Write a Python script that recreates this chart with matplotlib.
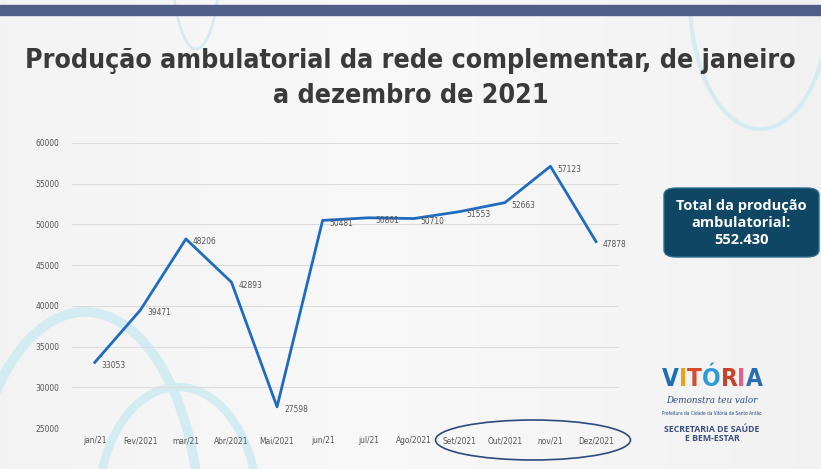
import numpy as np
import matplotlib.pyplot as plt
from matplotlib.patches import Ellipse, FancyBboxPatch, Arc, Rectangle

plt.rcParams["font.family"] = ["DejaVu Sans"]
plt.rcParams["font.stretch"] = "condensed"

months = ["jan/21", "Fev/2021", "mar/21", "Abr/2021", "Mai/2021", "jun/21",
          "jul/21", "Ago/2021", "Set/2021", "Out/2021", "nov/21", "Dez/2021"]
producao = [33053, 39471, 48206, 42893, 27598, 50481,
            50801, 50710, 51553, 52663, 57123, 47878]
yticks = [25000, 30000, 35000, 40000, 45000, 50000, 55000, 60000]
total_text = "Total da produção\nambulatorial:\n552.430"
title = "Produção ambulatorial da rede complementar, de janeiro\na dezembro de 2021"


def main():
    fig = plt.figure(figsize=(8.21, 4.69), dpi=100)
    fig.patch.set_facecolor("#f3f3f3")

    # background: soft gradient plus decorative arcs
    bg = fig.add_axes([0, 0, 1, 1], zorder=-10)
    grad = np.linspace(0, 1, 256)
    g = np.outer(np.ones(64), grad)
    img = 0.975 - 0.05 * np.abs(g - 0.45)
    bg.imshow(np.dstack([img, img, img]), extent=[0, 821, 0, 469],
              aspect="auto", vmin=0, vmax=1)
    arc_c = "#d3ecf2"
    bg.add_patch(Arc((85, -60), 230, 434, theta1=0, theta2=180, color=arc_c, lw=7))
    bg.add_patch(Arc((178, -40), 160, 244, theta1=0, theta2=180, color=arc_c, lw=6))
    bg.add_patch(Arc((760, 470), 140, 260, theta1=190, theta2=330, color=arc_c, lw=3))
    bg.add_patch(Arc((196, 520), 50, 200, theta1=200, theta2=320, color=arc_c, lw=2))
    bg.add_patch(Rectangle((0, 454), 821, 10, color="#4f5f8a"))
    bg.set_xlim(0, 821)
    bg.set_ylim(0, 469)
    bg.axis("off")

    t = fig.text(0.5, 0.833, title, ha="center", va="center", fontsize=25,
                 fontweight="bold", color="#3a3a3a", linespacing=1.45)
    # shrink the title so its widest line spans the same width as the reference
    r = fig.canvas.get_renderer()
    w = t.get_window_extent(r).width
    t.set_fontsize(25 * min(1.0, 773 / w))

    ax = fig.add_axes([0.0877, 0.0874, 0.666, 0.608])
    ax.set_facecolor("none")
    x = np.arange(len(months))
    ax.plot(x, producao, color="#1f6bbf", lw=2, zorder=3)
    for xi, v in zip(x, producao):
        ax.annotate(str(v), (xi, v), xytext=(5, -2), textcoords="offset points",
                    ha="left", va="center", fontsize=6, color="#555555")

    ax.set_xlim(-0.5, len(months) - 0.5)
    ax.set_ylim(yticks[0], yticks[-1])
    ax.set_yticks(yticks)
    ax.set_xticks(x)
    ax.set_xticklabels(months)
    ax.tick_params(axis="both", length=0, labelsize=6, labelcolor="#555555")
    ax.tick_params(axis="x", pad=6)
    ax.tick_params(axis="y", pad=9)
    ax.grid(axis="y", color="#dcdcdc", lw=0.8)
    for s in ax.spines.values():
        s.set_visible(False)

    # highlight ellipse around last months
    fig.patches.append(Ellipse((533 / 821, 29 / 469), 195 / 821, 40 / 469,
                               transform=fig.transFigure, fill=False,
                               ec="#2a4a80", lw=1.2))

    # total box
    fig.patches.append(FancyBboxPatch((664 / 821, 212 / 469), 155 / 821, 69 / 469,
                                      boxstyle="round,pad=0,rounding_size=0.015",
                                      transform=fig.transFigure,
                                      fc="#0e4663", ec="#2d6d91", lw=1))
    fig.text(741 / 821, 246 / 469, total_text, ha="center", va="center",
             fontsize=10.5, fontweight="bold", color="white", fontstretch="normal",
             family=["Open Sans", "DejaVu Sans"], linespacing=1.25)

    # logo text, letters placed one after the other
    logo = "VITÓRIA"
    cols = ["#1b6fb8", "#e8a21c", "#d94a2a", "#2a9bd6", "#c7432d", "#e25f8e", "#2b6cb3"]
    xpos = 662
    for ch, c in zip(logo, cols):
        lt = fig.text(xpos / 821, 90 / 469, ch, fontsize=17.5, fontweight="bold",
                      color=c, ha="left", va="center")
        xpos += lt.get_window_extent(r).width
    fig.text(712 / 821, 69 / 469, "Demonstra teu valor", fontsize=7, style="italic",
             color="#2a4a80", ha="center", va="center", family=["DejaVu Serif"])
    fig.text(712 / 821, 56 / 469, "Prefeitura da Cidade da Vitória de Santo Antão",
             fontsize=3.4, color="#2a4a80", ha="center", va="center")
    fig.text(712 / 821, 35 / 469, "SECRETARIA DE SAÚDE\nE BEM-ESTAR", fontsize=6.3,
             fontweight="bold", color="#3b4e80", ha="center", va="center",
             fontstretch="normal", family=["Open Sans", "DejaVu Sans"], linespacing=1.1)

    fig.savefig("out.png", dpi=100)


if __name__ == "__main__":
    main()
